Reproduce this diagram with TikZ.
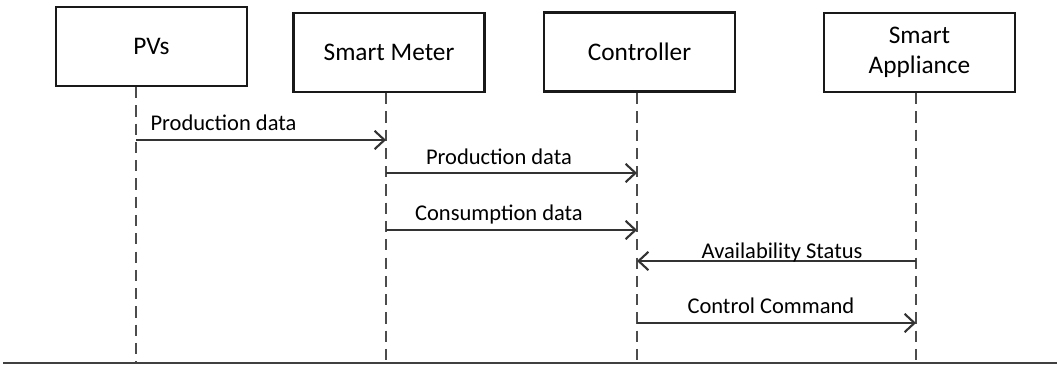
\documentclass[tikz,border=0pt]{standalone}
\usepackage{fontspec}
\setmainfont{Carlito}
\usetikzlibrary{arrows.meta}
\begin{document}
\begin{tikzpicture}
          [x=0.025cm,y=-0.025cm,
          box/.style={shape=rectangle,draw=black!90,line width=2pt,minimum width=4.775cm,minimum height=1.975cm,align=center,font=\fontsize{18}{21}\selectfont},
          life/.style={draw=black!70,line width=1pt,dash pattern=on 8pt off 5pt},
          arc/.style={-{Straight Barb[length=7pt,width=13pt]},draw=black!80,line width=1.5pt},
          msg/.style={font=\fontsize{16}{19}\selectfont,above,inner sep=2pt}]

            \useasboundingbox (0,0) rectangle (1057,367);

            \node (pv) [box] at (151.5,46.5) {PVs};
            \node (sm) [box] at (389,52.5) {Smart Meter};
            \node (ctl) [box] at (639.5,52) {Controller};
            \node (app) [box] at (919.5,52.5) {Smart\\Appliance};

          \coordinate (pvtop) at (136,87);
          \coordinate (pvbot) at (136,363);
          \coordinate (smtop) at (386,93);
          \coordinate (smbot) at (386,363);
          \coordinate (ctltop) at (637,93);
          \coordinate (ctlbot) at (637,363);
          \coordinate (apptop) at (916,93);
          \coordinate (appbot) at (916,363);
          \coordinate (L) at (3,363);
          \coordinate (R) at (1057,363);

          \coordinate (A1) at (136,140);
          \coordinate (B1) at (386,140);
          \coordinate (A2) at (386,173);
          \coordinate (B2) at (637,173);
          \coordinate (A3) at (386,230);
          \coordinate (B3) at (637,230);
          \coordinate (A4) at (916,261);
          \coordinate (B4) at (637,261);
          \coordinate (A5) at (637,323);
          \coordinate (B5) at (916,323);

          \draw [life] (pvtop) -- (pvbot);
          \draw [life] (smtop) -- (smbot);
          \draw [life] (ctltop) -- (ctlbot);
          \draw [life] (apptop) -- (appbot);
          \draw [draw=black!75,line width=1.5pt] (L) -- (R);

          \draw [arc] (A1) to node [msg,pos=0.35,yshift=4pt] {Production data} (B1);
            \draw [arc] (A2) to node [msg,pos=0.45,yshift=3pt] {Production data} (B2);
            \draw [arc] (A3) to node [msg,pos=0.45,yshift=1.5pt] {Consumption data} (B3);
            \draw [arc] (A4) to node [msg,pos=0.48,yshift=-3.5pt] {Availability Status} (B4);
            \draw [arc] (A5) to node [msg,pos=0.48,yshift=4pt] {Control Command} (B5);

        \end{tikzpicture}
\end{document}
